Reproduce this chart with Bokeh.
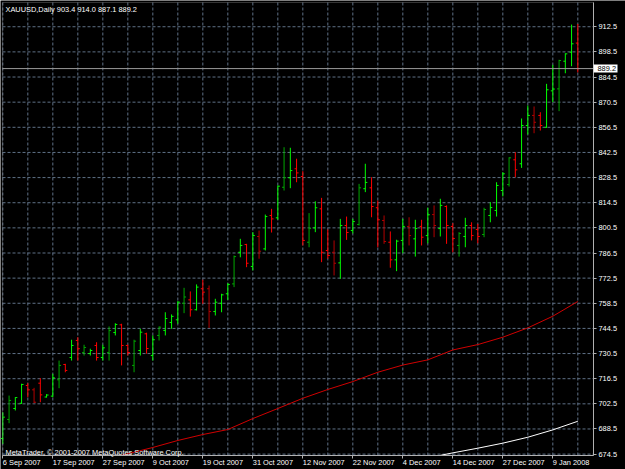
from bokeh.plotting import figure
from bokeh.models import (Range1d, FixedTicker, Label, ColumnDataSource,
                          PrintfTickFormatter, LinearAxis, BoxAnnotation)
from bokeh.embed import file_html
from bokeh.resources import INLINE

symbol = "XAUUSD,Daily"
copyright_text = "MetaTrader, \u00a9 2001-2007 MetaQuotes Software Corp."

opens = [683.2, 693.8, 699.9, 702.8, 712.7, 710.3, 714.0, 706.3, 706.8, 715.9,
         724.4, 728.3, 737.8, 731.1, 730.5, 735.0, 728.3, 731.1, 742.2, 746.5,
         735.0, 723.9, 732.2, 741.5, 729.4, 740.6, 743.4, 747.8, 749.3, 758.5,
         760.4, 754.9, 766.6, 766.6, 753.9, 758.5, 763.8, 769.3, 786.9, 791.2,
         779.0, 795.7, 788.8, 807.4, 806.1, 823.1, 828.4, 833.4, 829.1, 792.5,
         800.5, 811.1, 787.9, 786.9, 781.0, 801.8, 799.0, 802.4, 822.3, 822.8,
         811.7, 804.6, 792.5, 782.7, 793.5, 801.3, 794.4, 801.3, 796.2, 807.9,
         800.1, 812.4, 801.3, 790.7, 795.7, 801.8, 799.6, 796.8, 807.4, 810.2,
         821.3, 824.6, 838.4, 836.2, 857.5, 863.1, 863.1, 856.5, 876.8, 877.9,
         893.3, 898.3, 903.4]
highs = [697.8, 707.1, 706.2, 713.7, 714.0, 711.4, 716.8, 707.9, 719.2, 726.6,
         724.8, 738.2, 739.6, 735.4, 733.2, 736.8, 735.4, 745.6, 747.4, 747.1,
         735.5, 738.2, 744.3, 742.1, 740.6, 745.6, 753.5, 752.3, 759.7, 767.1,
         765.1, 769.0, 771.6, 768.4, 761.0, 763.8, 769.7, 785.1, 794.4, 791.6,
         798.1, 799.0, 807.9, 811.1, 824.1, 845.4, 845.1, 839.0, 832.1, 808.7,
         815.3, 817.2, 799.6, 793.5, 805.5, 806.8, 805.5, 825.0, 836.2, 828.7,
         815.7, 807.4, 798.5, 793.9, 805.5, 806.4, 805.0, 805.0, 811.7, 813.0,
         816.7, 813.0, 803.1, 798.1, 806.1, 803.6, 802.7, 811.7, 814.8, 825.9,
         831.5, 839.8, 842.6, 861.4, 868.6, 868.1, 864.9, 880.7, 891.3, 894.1,
         897.7, 913.7, 914.0]
lows = [680.2, 691.7, 698.8, 702.5, 706.2, 702.9, 703.4, 706.0, 706.2, 711.2,
        720.1, 726.6, 726.6, 729.4, 729.4, 726.6, 726.6, 726.6, 740.6, 723.9,
        729.4, 720.1, 729.4, 730.4, 726.6, 737.8, 740.6, 744.3, 747.1, 753.0,
        751.1, 754.5, 758.2, 744.8, 751.7, 753.5, 760.4, 767.5, 784.1, 778.6,
        776.8, 783.3, 787.9, 797.9, 805.0, 821.3, 822.6, 825.9, 790.7, 789.7,
        798.1, 781.4, 783.3, 774.0, 772.1, 793.8, 797.4, 801.8, 820.4, 806.4,
        789.7, 791.6, 778.3, 776.4, 786.4, 790.7, 784.5, 790.7, 791.9, 795.3,
        795.7, 791.6, 786.9, 784.5, 789.7, 793.5, 791.9, 795.3, 803.6, 806.8,
        818.0, 823.5, 828.7, 833.9, 852.5, 853.2, 854.7, 856.2, 870.5, 865.5,
        886.6, 890.5, 887.1]
closes = [695.1, 704.4, 706.0, 713.3, 710.3, 703.4, 707.5, 707.4, 717.0, 723.9,
          721.1, 735.0, 733.2, 733.9, 732.2, 728.3, 733.7, 743.3, 746.7, 735.0,
          731.1, 737.4, 742.4, 733.3, 738.2, 745.2, 750.0, 751.2, 759.1, 762.0,
          754.9, 767.5, 764.7, 753.9, 759.1, 763.2, 769.0, 784.5, 790.7, 780.8,
          796.2, 787.5, 806.8, 805.5, 823.7, 828.4, 832.4, 831.1, 793.5, 800.1,
          811.7, 786.9, 785.1, 780.8, 801.8, 797.9, 804.0, 822.8, 825.8, 812.4,
          805.0, 792.9, 782.7, 793.1, 801.3, 796.2, 800.1, 795.3, 807.8, 801.8,
          813.0, 801.8, 794.6, 797.4, 801.8, 796.2, 795.7, 810.7, 811.8, 824.1,
          830.6, 839.5, 832.8, 857.5, 863.1, 859.3, 857.5, 877.4, 877.8, 893.7,
          897.4, 903.0, 889.2]

date_bars = [0, 8, 16, 24, 32, 40, 48, 56, 64, 72, 80, 88]
date_labels = ["6 Sep 2007", "17 Sep 2007", "27 Sep 2007", "9 Oct 2007",
               "19 Oct 2007", "31 Oct 2007", "12 Nov 2007", "22 Nov 2007",
               "4 Dec 2007", "14 Dec 2007", "27 Dec 2007", "9 Jan 2008"]
price_ticks = [674.5, 688.5, 702.5, 716.5, 730.5, 744.5, 758.5, 772.5,
               786.5, 800.5, 814.5, 828.5, 842.5, 856.5, 870.5, 884.5,
               898.5, 912.5]

ma_red_bars = [19, 24, 28, 32, 36, 40, 44, 48, 52, 56, 60, 64, 68, 72, 76, 80, 84, 88, 92]
ma_red_vals = [673.8, 678.2, 682.1, 685.4, 688.2, 694.3, 699.9, 705.6, 710.5, 714.9,
               720.1, 724.1, 727.0, 732.5, 735.5, 739.6, 744.8, 751.3, 759.5]
ma_white_bars = [70, 72, 76, 80, 84, 88, 92]
ma_white_vals = [673.8, 675.2, 677.8, 680.6, 683.9, 688.0, 692.8]

# ---------------------------------------------------------------
W, H = 625, 469
PX_BAR = 6.25          # pixels per bar
PX_UNIT = 1.7957       # pixels per price unit
CH_L, CH_R, CH_T, CH_B = 2, 593, 2, 455   # chart box inside the canvas (px)
BAR0_PX = 2.3125       # pixel x of bar 0
TOP_PRICE = 926.0      # price at the chart's top edge

# the plot frame fills the canvas; the chart box is a data-space region
xr0 = -BAR0_PX / PX_BAR
xr1 = (W - BAR0_PX) / PX_BAR
yr1 = TOP_PRICE + CH_T / PX_UNIT
yr0 = yr1 - H / PX_UNIT
x0c = (CH_L - BAR0_PX) / PX_BAR
x1c = (CH_R - BAR0_PX) / PX_BAR
y1c = TOP_PRICE
y0c = yr1 - CH_B / PX_UNIT

n = len(opens)
idx = list(range(n))
# bright/dim shades: every 4th bar sits between screen pixels in the
# original capture and shows dimmer
UP = ("#00ff00", "#00a800")
DN = ("#ff0000", "#b40000")
colors = []
for i, (o, c) in enumerate(zip(opens, closes)):
    pair = UP if c >= o else DN
    colors.append(pair[1] if i % 4 == 1 else pair[0])
tick_w = 0.32
src = ColumnDataSource(dict(
    x=idx, o=opens, h=highs, l=lows, c=closes, color=colors,
    xl=[i - tick_w for i in idx], xr=[i + tick_w for i in idx],
))

FONT = "Liberation Sans"
FS = "7.4px"
TXT = "#ffffff"
FRAME = "#b0b0b0"
GRID = "#5f7186"

p = figure(width=W, height=H, output_backend="svg", toolbar_location=None,
           x_range=Range1d(xr0, xr1), y_range=Range1d(yr0, yr1),
           x_axis_location=None, y_axis_location=None,
           min_border=0, min_border_left=0, min_border_right=0,
           min_border_top=0, min_border_bottom=0,
           background_fill_color="#000000", border_fill_color="#000000")
p.outline_line_color = None
p.grid.visible = False

# grid (dashed), limited to the chart box
vgrid = list(range(0, n, 4))
p.segment(x0=vgrid, y0=[y0c] * len(vgrid), x1=vgrid, y1=[y1c] * len(vgrid),
          line_color=GRID, line_dash="3 2", line_width=1)
p.segment(x0=[x0c] * len(price_ticks), y0=price_ticks,
          x1=[x1c] * len(price_ticks), y1=price_ticks,
          line_color=GRID, line_dash="3 2", line_width=1)

# moving averages
p.line(ma_red_bars, ma_red_vals, line_color="#d00000", line_width=1)
p.line(ma_white_bars, ma_white_vals, line_color="#ffffff", line_width=1)

# OHLC bars
p.segment(x0="x", y0="l", x1="x", y1="h", source=src, line_color="color", line_width=1)
p.segment(x0="xl", y0="o", x1="x", y1="o", source=src, line_color="color", line_width=1)
p.segment(x0="x", y0="c", x1="xr", y1="c", source=src, line_color="color", line_width=1)

# bid line
p.segment(x0=[x0c], y0=[closes[-1]], x1=[x1c], y1=[closes[-1]],
          line_color="#9a9a9a", line_width=1)

# chart border
p.add_layout(BoxAnnotation(left=x0c, right=x1c, bottom=y0c, top=y1c,
                           fill_color=None, line_color=FRAME, line_width=1))

# right price axis, pinned to the chart's right edge
ya = LinearAxis(fixed_location=x1c, bounds=(y0c, y1c),
                ticker=FixedTicker(ticks=price_ticks),
                formatter=PrintfTickFormatter(format="%.1f"))
ya.axis_line_color = FRAME
ya.major_tick_line_color = FRAME
ya.major_tick_out = 3
ya.major_tick_in = 0
ya.minor_tick_out = 0
ya.minor_tick_in = 0
ya.major_label_standoff = 2
ya.major_label_text_color = TXT
ya.major_label_text_font = FONT
ya.major_label_text_font_size = FS
p.add_layout(ya, "right")

# bottom time axis, pinned to the chart's bottom edge;
# labels left-aligned at their tick (tiny negative angle)
xa = LinearAxis(fixed_location=y0c, bounds=(x0c, x1c),
                ticker=FixedTicker(ticks=date_bars))
xa.major_label_overrides = {b: t for b, t in zip(date_bars, date_labels)}
xa.major_label_orientation = -0.0001
xa.major_label_standoff = 4
xa.major_label_text_color = TXT
xa.major_label_text_font = FONT
xa.major_label_text_font_size = FS
xa.axis_line_color = FRAME
xa.major_tick_line_color = FRAME
xa.major_tick_out = 3
xa.major_tick_in = 0
xa.minor_tick_out = 0
xa.minor_tick_in = 0
p.add_layout(xa, "below")

# last-price box: one tick at the close; its thick white tick forms the box
# and the label is pulled back on top of it
bid_axis = LinearAxis(fixed_location=x1c, ticker=FixedTicker(ticks=[closes[-1]]),
                      formatter=PrintfTickFormatter(format="%.1f"))
bid_axis.axis_line_color = None
bid_axis.major_tick_line_color = "#ffffff"
bid_axis.major_tick_line_width = 8
bid_axis.major_tick_line_cap = "butt"
bid_axis.major_tick_in = 0
bid_axis.major_tick_out = 24
bid_axis.minor_tick_out = 0
bid_axis.minor_tick_in = 0
bid_axis.major_label_standoff = -20
bid_axis.major_label_text_color = "#000000"
bid_axis.major_label_text_font = FONT
bid_axis.major_label_text_font_size = FS
p.add_layout(bid_axis, "right")

# title and copyright
title = f"{symbol}  {opens[-1]:.1f} {highs[-1]:.1f} {lows[-1]:.1f} {closes[-1]:.1f}"
p.add_layout(Label(x=x0c, y=y1c, x_offset=3, y_offset=-2, text=title,
                   text_baseline="top", text_align="left", text_color=TXT,
                   text_font=FONT, text_font_size=FS))
p.add_layout(Label(x=x0c, y=y0c, x_offset=3, y_offset=3.5, text=copyright_text,
                   text_baseline="alphabetic", text_align="left", text_color=TXT,
                   text_font=FONT, text_font_size=FS))

open("out.html", "w").write(file_html(p, INLINE))
